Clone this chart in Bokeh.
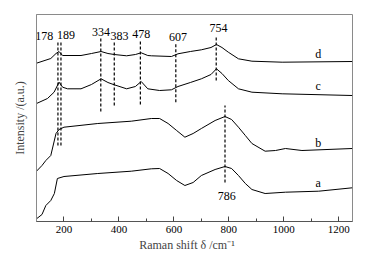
from bokeh.plotting import figure
from bokeh.embed import file_html
from bokeh.resources import INLINE
from bokeh.models import Range1d, FixedTicker, ColumnDataSource
from bokeh.core.properties import value

# Raman shift (cm^-1) and intensity (a.u., offset stacked)
xa = [100, 120, 134, 152, 165, 176, 200, 323, 445, 518, 548, 579, 610, 640, 670, 700, 750, 786, 810, 835, 860, 884, 932, 1006, 1127, 1249]
ya = [2.7, 7, 16, 21, 28, 43, 45, 48, 50.3, 52.7, 53, 48, 41, 36, 39, 46, 52, 55, 53, 46, 38, 32, 28, 29.3, 30.3, 33.7]

xb = [100, 120, 134, 152, 171, 182, 200, 323, 445, 518, 548, 579, 610, 640, 670, 700, 750, 786, 810, 835, 860, 884, 932, 970, 1006, 1066, 1249]
yb = [50.3, 56, 61, 66, 88, 92, 94.3, 98, 100.3, 103, 103, 98, 91, 84.3, 88, 93, 101, 105, 102, 94.3, 86, 78, 70.3, 71, 73, 71, 73]

xc = [100, 140, 164, 182, 195, 213, 262, 300, 335, 360, 383, 428, 460, 481, 505, 548, 591, 615, 660, 700, 735, 755, 775, 798, 835, 884, 994, 1249]
yc = [118, 123, 129.3, 139.3, 134.3, 132.7, 132.7, 137, 142.7, 139, 136.7, 132.7, 135, 140, 132.7, 131, 131.7, 135, 139, 142.7, 147, 152.7, 148, 141, 132.7, 129.3, 127.7, 126]

xd = [100, 152, 171, 182, 195, 262, 300, 335, 360, 383, 428, 460, 481, 505, 518, 591, 615, 660, 700, 735, 755, 775, 798, 835, 884, 994, 1249]
yd = [158.3, 163, 168, 170, 166, 166, 168, 170, 168, 167, 165.7, 167, 168.7, 166, 165.7, 165, 167.7, 170, 171.7, 174, 177, 174, 169.3, 162.7, 160.3, 159.3, 160]

# peak marker lines
peak_x = [178, 189, 334, 383, 478, 607, 754, 786]
peak_top = [179.3, 179.3, 184, 181, 181, 179.3, 186, 116]
peak_bot = [76, 76, 110, 116, 117, 119.3, 141, 39]

# peak labels
lab_text = ["178", "189", "334", "383", "478", "607", "754", "786"]
lab_x = [128, 207, 335, 402, 481, 615, 762, 792]
lab_y = [186, 187, 189.3, 186, 187.7, 185, 193.7, 26]

# curve labels
cur_text = ["d", "c", "b", "a"]
cur_x = [1125, 1125, 1125, 1125]
cur_y = [168, 136, 79, 39]

x_ticks = [200, 400, 600, 800, 1000, 1200]
x_minor = [100, 300, 500, 700, 900, 1100]

FONT = "Liberation Serif"

p = figure(width=366, height=259, output_backend="svg", toolbar_location=None,
           x_range=Range1d(100, 1250), y_range=Range1d(0, 207),
           min_border_left=36, min_border_right=14, min_border_top=14, min_border_bottom=38)
p.grid.visible = False
p.outline_line_color = "#8a8a8a"
p.background_fill_color = "white"
p.border_fill_color = "white"

for xs, ys in [(xa, ya), (xb, yb), (xc, yc), (xd, yd)]:
    p.line(xs, ys, line_color="black", line_width=1)

p.segment(x0=peak_x, y0=peak_bot, x1=peak_x, y1=peak_top, line_color="black",
          line_width=1.2, line_dash="3 2")

src = ColumnDataSource(dict(x=lab_x, y=lab_y, t=lab_text))
p.text(x="x", y="y", text="t", source=src, text_font=value(FONT), text_font_size="12px",
       text_align="center", text_baseline="middle", text_color="black")
src2 = ColumnDataSource(dict(x=cur_x, y=cur_y, t=cur_text))
p.text(x="x", y="y", text="t", source=src2, text_font=value(FONT), text_font_size="12px",
       text_align="center", text_baseline="middle", text_color="black")

xa_ax = p.xaxis[0]
xa_ax.ticker = FixedTicker(ticks=x_ticks, minor_ticks=x_minor)
xa_ax.major_tick_in = 5
xa_ax.major_tick_out = 0
xa_ax.minor_tick_in = 3
xa_ax.minor_tick_out = 0
xa_ax.axis_line_color = "#555555"
xa_ax.major_tick_line_color = "#444444"
xa_ax.minor_tick_line_color = "#444444"
xa_ax.major_label_text_font = FONT
xa_ax.major_label_text_font_size = "11px"
xa_ax.major_label_text_color = "black"
xa_ax.major_label_standoff = 4
xa_ax.axis_label = "Raman shift      \u03b4 /cm\u207b\u00b9"
xa_ax.axis_label_text_font = FONT
xa_ax.axis_label_text_font_style = "normal"
xa_ax.axis_label_text_font_size = "12px"
xa_ax.axis_label_standoff = 2

ya_ax = p.yaxis[0]
ya_ax.ticker = FixedTicker(ticks=[])
ya_ax.major_tick_in = 0
ya_ax.major_tick_out = 0
ya_ax.minor_tick_in = 0
ya_ax.minor_tick_out = 0
ya_ax.axis_line_color = "#8a8a8a"
ya_ax.major_label_text_font_size = "0px"
ya_ax.axis_label = "Intensity /(a.u.)"
ya_ax.axis_label_text_font = FONT
ya_ax.axis_label_text_font_style = "normal"
ya_ax.axis_label_text_font_size = "12px"
ya_ax.axis_label_standoff = 10

open("out.html", "w").write(file_html(p, INLINE))
